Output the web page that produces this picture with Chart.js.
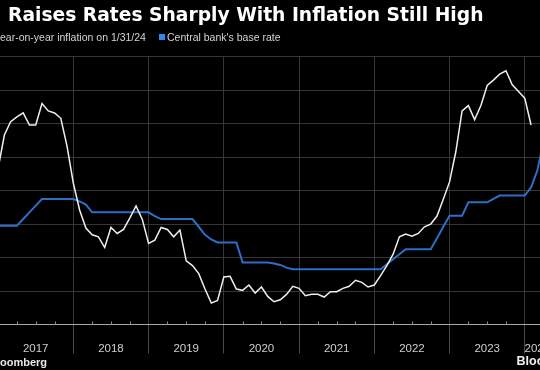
<!DOCTYPE html>
<html>
<head>
<meta charset="utf-8">
<script src="https://cdn.jsdelivr.net/npm/chart.js@4.4.1/dist/chart.umd.min.js"></script>
<style>
  html, body { margin: 0; padding: 0; background: #000; }
  #wrap { position: relative; width: 540px; height: 370px; overflow: hidden; background: #000;
          font-family: "Liberation Sans", Arial, sans-serif; }
  #chartBox { position: absolute; left: -10px; top: 0; }
  .title { position: absolute; left: 8px; top: 5.5px; font-size: 18px; line-height: 18px;
           font-family: "DejaVu Sans", sans-serif; font-weight: bold; color: #fff; white-space: nowrap; }
  .legend { position: absolute; top: 32px; font-size: 10.5px; line-height: 10.5px; color: #d4d4d4; white-space: nowrap; }
  .swatch { position: absolute; left: 159px; top: 34px; width: 6px; height: 6px; background: #2a88f0; }
  .source { position: absolute; left: 0; top: 357px; font-size: 11px; line-height: 11px; font-weight: bold; color: #e8e8e8; }
  .brand { position: absolute; left: 516.5px; top: 354.5px; font-size: 12.5px; line-height: 12.5px; font-weight: bold; color: #f0f0f0; }
</style>
</head>
<body>
<div id="wrap">
  <div id="chartBox"><canvas id="rateChart" width="600" height="370"></canvas></div>
  <div class="title" id="title">Raises Rates Sharply With Inflation Still High</div>
  <div class="legend" style="left:0">ear-on-year inflation on 1/31/24</div>
  <div class="swatch"></div>
  <div class="legend" style="left:167px">Central bank's base rate</div>
  <div class="source">oomberg</div>
  <div class="brand">Bloo</div>
</div>
<script>
// monthly points, month-end, Dec 2016 .. Mar 2024
const months = [];
for (let y = 2016; y <= 2024; y++) {
    for (let m = 1; m <= 12; m++) {
        if (y === 2016 && m < 12) continue;
        if (y === 2024 && m > 3) continue;
        months.push(y + '-' + String(m).padStart(2, '0'));
    }
}

const yearLabels = ['2017', '2018', '2019', '2020', '2021', '2022', '2023', '2024'];
const yearLabelMonths = ['2017-06', '2018-06', '2019-06', '2020-06', '2021-06', '2022-06', '2023-06', '2024-02'];

// year-on-year inflation, %
const inflation = [
    23.3, 28.3, 30.3, 31.0, 31.6, 29.8, 29.8, 33.0, 31.9, 31.6, 30.8, 26.6, 21.1,
    17.1, 14.4, 13.4, 13.1, 11.5, 14.5, 13.6, 14.2, 15.9, 17.7, 15.7, 12.1,
    12.6, 14.5, 14.2, 13.1, 14.1, 9.5, 8.8, 7.6, 5.3, 3.2, 3.6, 7.1,
    7.2, 5.3, 5.1, 5.9, 4.7, 5.6, 4.2, 3.4, 3.7, 4.5, 5.7, 5.4,
    4.3, 4.5, 4.5, 4.1, 4.9, 4.9, 5.4, 5.7, 6.6, 6.3, 5.6, 5.9,
    7.3, 8.8, 10.5, 13.1, 13.5, 13.2, 13.6, 14.6, 15.0, 16.2, 18.7, 21.3,
    25.8, 31.9, 32.7, 30.6, 32.7, 35.7, 36.5, 37.4, 37.9, 35.8, 34.8, 33.8,
    29.8
];

// central bank base rate, %
const baseRate = [
    14.75, 14.75, 14.75, 14.75, 15.75, 16.75, 17.75, 18.75, 18.75, 18.75, 18.75, 18.75, 18.75,
    18.4, 17.9, 16.75, 16.75, 16.75, 16.75, 16.75, 16.75, 16.75, 16.75, 16.75, 16.75,
    16.2, 15.75, 15.75, 15.75, 15.75, 15.75, 15.75, 14.6, 13.4, 12.7, 12.25, 12.25,
    12.25, 12.25, 9.25, 9.25, 9.25, 9.25, 9.25, 9.1, 8.9, 8.5, 8.25, 8.25,
    8.25, 8.25, 8.25, 8.25, 8.25, 8.25, 8.25, 8.25, 8.25, 8.25, 8.25, 8.25,
    8.25, 9.0, 9.75, 10.5, 11.25, 11.25, 11.25, 11.25, 11.25, 12.9, 14.6, 16.25,
    16.25, 16.25, 18.25, 18.25, 18.25, 18.25, 18.75, 19.25, 19.25, 19.25, 19.25, 19.25,
    20.5, 23.0, 27.25
];

const gridColor = '#363636';

// title font size picked so the headline spans the same width as the original
(function fitTitle() {
    const el = document.getElementById('title');
    const m = document.createElement('canvas').getContext('2d');
    m.font = 'bold 18px "DejaVu Sans"';
    const w = m.measureText(el.textContent).width;
    const size = 18 * 476 / w;
    el.style.fontSize = size + 'px';
    el.style.lineHeight = '18px';
})();

// little quarter marks sitting on the axis line
const quarterTicks = {
    id: 'quarterTicks',
    afterDraw(chart) {
        const xs = chart.scales.x;
        const ctx = chart.ctx;
        const bottom = chart.chartArea.bottom;
        ctx.save();
        ctx.strokeStyle = '#8a8a8a';
        ctx.lineWidth = 1;
        months.forEach((m, i) => {
            const mm = m.slice(5);
            if (mm === '03' || mm === '06' || mm === '09') {
                const px = Math.round(xs.getPixelForValue(i)) + 0.5;
                ctx.beginPath();
                ctx.moveTo(px, bottom - 3);
                ctx.lineTo(px, bottom);
                ctx.stroke();
            }
        });
        ctx.restore();
    }
};

const ctx = document.getElementById('rateChart').getContext('2d');
new Chart(ctx, {
    type: 'line',
    data: {
        labels: months,
        datasets: [{
            label: 'Year-on-year inflation on 1/31/24',
            data: inflation,
            borderColor: '#efefef',
            borderWidth: 1.5,
            pointRadius: 0,
            tension: 0
        }, {
            label: "Central bank's base rate",
            data: baseRate,
            borderColor: '#2d6fc6',
            borderWidth: 2,
            pointRadius: 0,
            tension: 0
        }]
    },
    options: {
        responsive: false,
        animation: false,
        devicePixelRatio: 1,
        layout: { padding: { top: 56.7, left: 8.1, right: 46.4, bottom: 0 } },
        plugins: {
            legend: { display: false },
            title: { display: false },
            tooltip: { enabled: false }
        },
        scales: {
            x: {
                type: 'category',
                offset: false,
                afterFit: s => { s.height = 45.5; },
                border: { display: true, color: '#a8a8a8', width: 1 },
                grid: {
                    color: c => (months[c.index] || '').endsWith('-12') ? gridColor : 'rgba(0,0,0,0)',
                    tickColor: c => (months[c.index] || '').endsWith('-12') ? '#4a4a4a' : 'rgba(0,0,0,0)',
                    tickLength: 29,
                    drawTicks: true
                },
                ticks: {
                    autoSkip: false,
                    maxRotation: 0,
                    padding: -12,
                    color: '#cfcfcf',
                    font: { family: '"Liberation Sans", Arial, sans-serif', size: 11.5 },
                    callback: (v, i) => {
                        const k = yearLabelMonths.indexOf(months[i]);
                        return k >= 0 ? yearLabels[k] : '';
                    }
                }
            },
            y: {
                position: 'right',
                min: 0,
                max: 40,
                afterFit: s => { s.width = 0; },
                border: { display: false },
                grid: { color: gridColor, drawTicks: false },
                ticks: { display: false, stepSize: 5 }
            }
        }
    },
    plugins: [quarterTicks]
});
</script>
</body>
</html>
